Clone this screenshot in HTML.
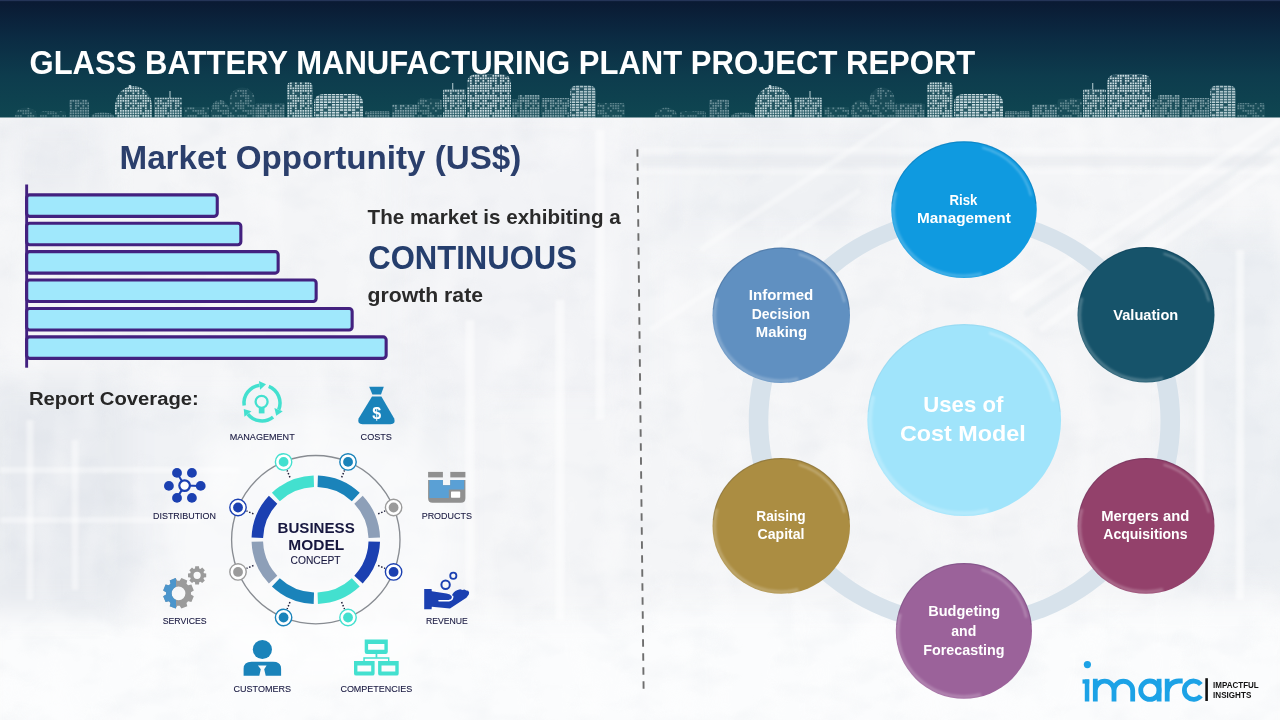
<!DOCTYPE html>
<html><head><meta charset="utf-8"><title>Glass Battery Manufacturing Plant Project Report</title>
<style>
html,body{margin:0;padding:0;background:#f4f6f8;}
body{width:1280px;height:720px;overflow:hidden;font-family:"Liberation Sans", sans-serif;}
svg{display:block;will-change:transform;}
</style></head><body>
<svg width="1280" height="720" viewBox="0 0 1280 720" font-family='"Liberation Sans", sans-serif'>
<defs>
<linearGradient id="hdr" x1="0" y1="0" x2="0" y2="1">
<stop offset="0" stop-color="#0a1932"/><stop offset="0.3" stop-color="#0b2a42"/><stop offset="0.65" stop-color="#0d3c4d"/><stop offset="1" stop-color="#0f4651"/></linearGradient>
<filter id="bv" x="-10%" y="-10%" width="120%" height="120%"><feGaussianBlur stdDeviation="1.1"/></filter>
<pattern id="win" width="25.0" height="25.0" patternUnits="userSpaceOnUse"><g fill="#e4f1f4"><rect x="0.0" y="0.0" width="1.7" height="1.7"/><rect x="0.0" y="2.5" width="1.7" height="1.7"/><rect x="0.0" y="5.0" width="1.7" height="1.7"/><rect x="0.0" y="7.5" width="1.7" height="1.7"/><rect x="0.0" y="10.0" width="1.7" height="1.7"/><rect x="0.0" y="12.5" width="1.7" height="1.7"/><rect x="0.0" y="15.0" width="1.7" height="1.7"/><rect x="0.0" y="17.5" width="1.7" height="1.7"/><rect x="0.0" y="20.0" width="1.7" height="1.7"/><rect x="0.0" y="22.5" width="1.7" height="1.7"/><rect x="2.5" y="0.0" width="1.7" height="1.7"/><rect x="2.5" y="2.5" width="1.7" height="1.7"/><rect x="2.5" y="5.0" width="1.7" height="1.7"/><rect x="2.5" y="10.0" width="1.7" height="1.7"/><rect x="2.5" y="12.5" width="1.7" height="1.7"/><rect x="2.5" y="15.0" width="1.7" height="1.7"/><rect x="2.5" y="20.0" width="1.7" height="1.7"/><rect x="2.5" y="22.5" width="1.7" height="1.7"/><rect x="5.0" y="2.5" width="1.7" height="1.7"/><rect x="5.0" y="7.5" width="1.7" height="1.7"/><rect x="5.0" y="10.0" width="1.7" height="1.7"/><rect x="5.0" y="12.5" width="1.7" height="1.7"/><rect x="5.0" y="15.0" width="1.7" height="1.7"/><rect x="5.0" y="20.0" width="1.7" height="1.7"/><rect x="5.0" y="22.5" width="1.7" height="1.7"/><rect x="7.5" y="0.0" width="1.7" height="1.7"/><rect x="7.5" y="2.5" width="1.7" height="1.7"/><rect x="7.5" y="5.0" width="1.7" height="1.7"/><rect x="7.5" y="7.5" width="1.7" height="1.7"/><rect x="7.5" y="10.0" width="1.7" height="1.7"/><rect x="7.5" y="12.5" width="1.7" height="1.7"/><rect x="7.5" y="15.0" width="1.7" height="1.7"/><rect x="7.5" y="17.5" width="1.7" height="1.7"/><rect x="7.5" y="20.0" width="1.7" height="1.7"/><rect x="7.5" y="22.5" width="1.7" height="1.7"/><rect x="10.0" y="0.0" width="1.7" height="1.7"/><rect x="10.0" y="2.5" width="1.7" height="1.7"/><rect x="10.0" y="7.5" width="1.7" height="1.7"/><rect x="10.0" y="10.0" width="1.7" height="1.7"/><rect x="10.0" y="12.5" width="1.7" height="1.7"/><rect x="10.0" y="15.0" width="1.7" height="1.7"/><rect x="10.0" y="20.0" width="1.7" height="1.7"/><rect x="10.0" y="22.5" width="1.7" height="1.7"/><rect x="12.5" y="2.5" width="1.7" height="1.7"/><rect x="12.5" y="5.0" width="1.7" height="1.7"/><rect x="12.5" y="7.5" width="1.7" height="1.7"/><rect x="12.5" y="10.0" width="1.7" height="1.7"/><rect x="12.5" y="12.5" width="1.7" height="1.7"/><rect x="12.5" y="15.0" width="1.7" height="1.7"/><rect x="12.5" y="17.5" width="1.7" height="1.7"/><rect x="12.5" y="20.0" width="1.7" height="1.7"/><rect x="12.5" y="22.5" width="1.7" height="1.7"/><rect x="15.0" y="2.5" width="1.7" height="1.7"/><rect x="15.0" y="5.0" width="1.7" height="1.7"/><rect x="15.0" y="7.5" width="1.7" height="1.7"/><rect x="15.0" y="10.0" width="1.7" height="1.7"/><rect x="15.0" y="12.5" width="1.7" height="1.7"/><rect x="15.0" y="20.0" width="1.7" height="1.7"/><rect x="15.0" y="22.5" width="1.7" height="1.7"/><rect x="17.5" y="0.0" width="1.7" height="1.7"/><rect x="17.5" y="2.5" width="1.7" height="1.7"/><rect x="17.5" y="5.0" width="1.7" height="1.7"/><rect x="17.5" y="12.5" width="1.7" height="1.7"/><rect x="17.5" y="15.0" width="1.7" height="1.7"/><rect x="17.5" y="17.5" width="1.7" height="1.7"/><rect x="17.5" y="20.0" width="1.7" height="1.7"/><rect x="17.5" y="22.5" width="1.7" height="1.7"/><rect x="20.0" y="0.0" width="1.7" height="1.7"/><rect x="20.0" y="2.5" width="1.7" height="1.7"/><rect x="20.0" y="5.0" width="1.7" height="1.7"/><rect x="20.0" y="7.5" width="1.7" height="1.7"/><rect x="20.0" y="10.0" width="1.7" height="1.7"/><rect x="20.0" y="12.5" width="1.7" height="1.7"/><rect x="20.0" y="15.0" width="1.7" height="1.7"/><rect x="20.0" y="20.0" width="1.7" height="1.7"/><rect x="20.0" y="22.5" width="1.7" height="1.7"/><rect x="22.5" y="0.0" width="1.7" height="1.7"/><rect x="22.5" y="10.0" width="1.7" height="1.7"/><rect x="22.5" y="12.5" width="1.7" height="1.7"/><rect x="22.5" y="15.0" width="1.7" height="1.7"/><rect x="22.5" y="22.5" width="1.7" height="1.7"/></g></pattern>
<pattern id="win2" width="32" height="20.8" patternUnits="userSpaceOnUse"><g fill="#e4f1f4"><rect x="0" y="0.0" width="3.2" height="1.6"/><rect x="0" y="2.6" width="3.2" height="1.6"/><rect x="0" y="5.2" width="3.2" height="1.6"/><rect x="0" y="7.800000000000001" width="3.2" height="1.6"/><rect x="0" y="10.4" width="3.2" height="1.6"/><rect x="0" y="13.0" width="3.2" height="1.6"/><rect x="0" y="15.600000000000001" width="3.2" height="1.6"/><rect x="0" y="18.2" width="3.2" height="1.6"/><rect x="4" y="0.0" width="3.2" height="1.6"/><rect x="4" y="2.6" width="3.2" height="1.6"/><rect x="4" y="7.800000000000001" width="3.2" height="1.6"/><rect x="4" y="10.4" width="3.2" height="1.6"/><rect x="4" y="13.0" width="3.2" height="1.6"/><rect x="4" y="15.600000000000001" width="3.2" height="1.6"/><rect x="4" y="18.2" width="3.2" height="1.6"/><rect x="8" y="2.6" width="3.2" height="1.6"/><rect x="8" y="5.2" width="3.2" height="1.6"/><rect x="8" y="7.800000000000001" width="3.2" height="1.6"/><rect x="8" y="10.4" width="3.2" height="1.6"/><rect x="8" y="13.0" width="3.2" height="1.6"/><rect x="8" y="15.600000000000001" width="3.2" height="1.6"/><rect x="8" y="18.2" width="3.2" height="1.6"/><rect x="12" y="0.0" width="3.2" height="1.6"/><rect x="12" y="2.6" width="3.2" height="1.6"/><rect x="12" y="5.2" width="3.2" height="1.6"/><rect x="12" y="7.800000000000001" width="3.2" height="1.6"/><rect x="12" y="10.4" width="3.2" height="1.6"/><rect x="12" y="13.0" width="3.2" height="1.6"/><rect x="12" y="15.600000000000001" width="3.2" height="1.6"/><rect x="12" y="18.2" width="3.2" height="1.6"/><rect x="16" y="0.0" width="3.2" height="1.6"/><rect x="16" y="2.6" width="3.2" height="1.6"/><rect x="16" y="5.2" width="3.2" height="1.6"/><rect x="16" y="7.800000000000001" width="3.2" height="1.6"/><rect x="16" y="10.4" width="3.2" height="1.6"/><rect x="16" y="13.0" width="3.2" height="1.6"/><rect x="16" y="15.600000000000001" width="3.2" height="1.6"/><rect x="16" y="18.2" width="3.2" height="1.6"/><rect x="20" y="0.0" width="3.2" height="1.6"/><rect x="20" y="2.6" width="3.2" height="1.6"/><rect x="20" y="5.2" width="3.2" height="1.6"/><rect x="20" y="10.4" width="3.2" height="1.6"/><rect x="20" y="13.0" width="3.2" height="1.6"/><rect x="20" y="15.600000000000001" width="3.2" height="1.6"/><rect x="20" y="18.2" width="3.2" height="1.6"/><rect x="24" y="0.0" width="3.2" height="1.6"/><rect x="24" y="2.6" width="3.2" height="1.6"/><rect x="24" y="5.2" width="3.2" height="1.6"/><rect x="24" y="7.800000000000001" width="3.2" height="1.6"/><rect x="24" y="10.4" width="3.2" height="1.6"/><rect x="24" y="15.600000000000001" width="3.2" height="1.6"/><rect x="24" y="18.2" width="3.2" height="1.6"/><rect x="28" y="0.0" width="3.2" height="1.6"/><rect x="28" y="2.6" width="3.2" height="1.6"/><rect x="28" y="5.2" width="3.2" height="1.6"/><rect x="28" y="10.4" width="3.2" height="1.6"/><rect x="28" y="13.0" width="3.2" height="1.6"/><rect x="28" y="15.600000000000001" width="3.2" height="1.6"/><rect x="28" y="18.2" width="3.2" height="1.6"/></g></pattern>
<pattern id="win3" width="25.0" height="25.0" patternUnits="userSpaceOnUse"><g fill="#e4f1f4"><rect x="0.0" y="0.0" width="1.7" height="1.7"/><rect x="0.0" y="5.0" width="1.7" height="1.7"/><rect x="0.0" y="10.0" width="1.7" height="1.7"/><rect x="0.0" y="12.5" width="1.7" height="1.7"/><rect x="2.5" y="5.0" width="1.7" height="1.7"/><rect x="2.5" y="7.5" width="1.7" height="1.7"/><rect x="2.5" y="10.0" width="1.7" height="1.7"/><rect x="2.5" y="12.5" width="1.7" height="1.7"/><rect x="2.5" y="15.0" width="1.7" height="1.7"/><rect x="2.5" y="17.5" width="1.7" height="1.7"/><rect x="2.5" y="20.0" width="1.7" height="1.7"/><rect x="5.0" y="2.5" width="1.7" height="1.7"/><rect x="5.0" y="12.5" width="1.7" height="1.7"/><rect x="5.0" y="15.0" width="1.7" height="1.7"/><rect x="5.0" y="17.5" width="1.7" height="1.7"/><rect x="5.0" y="20.0" width="1.7" height="1.7"/><rect x="5.0" y="22.5" width="1.7" height="1.7"/><rect x="7.5" y="7.5" width="1.7" height="1.7"/><rect x="7.5" y="15.0" width="1.7" height="1.7"/><rect x="10.0" y="2.5" width="1.7" height="1.7"/><rect x="10.0" y="5.0" width="1.7" height="1.7"/><rect x="10.0" y="10.0" width="1.7" height="1.7"/><rect x="10.0" y="17.5" width="1.7" height="1.7"/><rect x="10.0" y="20.0" width="1.7" height="1.7"/><rect x="12.5" y="2.5" width="1.7" height="1.7"/><rect x="12.5" y="5.0" width="1.7" height="1.7"/><rect x="12.5" y="7.5" width="1.7" height="1.7"/><rect x="12.5" y="15.0" width="1.7" height="1.7"/><rect x="15.0" y="0.0" width="1.7" height="1.7"/><rect x="15.0" y="2.5" width="1.7" height="1.7"/><rect x="15.0" y="5.0" width="1.7" height="1.7"/><rect x="15.0" y="7.5" width="1.7" height="1.7"/><rect x="15.0" y="15.0" width="1.7" height="1.7"/><rect x="15.0" y="20.0" width="1.7" height="1.7"/><rect x="17.5" y="2.5" width="1.7" height="1.7"/><rect x="17.5" y="5.0" width="1.7" height="1.7"/><rect x="17.5" y="7.5" width="1.7" height="1.7"/><rect x="17.5" y="10.0" width="1.7" height="1.7"/><rect x="17.5" y="15.0" width="1.7" height="1.7"/><rect x="17.5" y="17.5" width="1.7" height="1.7"/><rect x="17.5" y="20.0" width="1.7" height="1.7"/><rect x="20.0" y="0.0" width="1.7" height="1.7"/><rect x="20.0" y="2.5" width="1.7" height="1.7"/><rect x="20.0" y="10.0" width="1.7" height="1.7"/><rect x="20.0" y="15.0" width="1.7" height="1.7"/><rect x="20.0" y="17.5" width="1.7" height="1.7"/><rect x="20.0" y="20.0" width="1.7" height="1.7"/><rect x="20.0" y="22.5" width="1.7" height="1.7"/><rect x="22.5" y="0.0" width="1.7" height="1.7"/><rect x="22.5" y="2.5" width="1.7" height="1.7"/><rect x="22.5" y="5.0" width="1.7" height="1.7"/><rect x="22.5" y="10.0" width="1.7" height="1.7"/><rect x="22.5" y="12.5" width="1.7" height="1.7"/><rect x="22.5" y="20.0" width="1.7" height="1.7"/><rect x="22.5" y="22.5" width="1.7" height="1.7"/></g></pattern>
</defs>
<rect x="0" y="0" width="1280" height="720" fill="#f4f5f7"/>
<g id="bgdeco"><defs><filter id="bl" x="-20%" y="-20%" width="140%" height="140%"><feGaussianBlur stdDeviation="14"/></filter><filter id="bl2" x="-5%" y="-5%" width="110%" height="110%"><feGaussianBlur stdDeviation="1.6"/></filter><filter id="tex" x="0" y="0" width="100%" height="100%"><feTurbulence type="fractalNoise" baseFrequency="0.022 0.035" numOctaves="3" seed="11" result="n"/><feColorMatrix in="n" type="matrix" values="0 0 0 0 0.55  0 0 0 0 0.6  0 0 0 0 0.68  1.6 0 0 0 -0.72"/></filter><filter id="tex2" x="0" y="0" width="100%" height="100%"><feTurbulence type="fractalNoise" baseFrequency="0.03 0.012" numOctaves="2" seed="4" result="n"/><feColorMatrix in="n" type="matrix" values="0 0 0 0 1  0 0 0 0 1  0 0 0 0 1  0 1.8 0 0 -0.78"/></filter></defs>
<g filter="url(#bl)">
<rect x="-20" y="380" width="150" height="230" fill="#e7eaef"/>
<rect x="130" y="400" width="330" height="180" fill="#f0f2f5"/>
<rect x="-20" y="615" width="700" height="130" fill="#fbfcfd"/>
<rect x="640" y="605" width="660" height="140" fill="#fbfcfd"/>
<rect x="1175" y="230" width="130" height="360" fill="#eceff3"/>
<rect x="660" y="120" width="240" height="120" fill="#eff1f4"/>
<rect x="400" y="120" width="240" height="280" fill="#f2f3f6"/>
<rect x="0" y="118" width="110" height="80" fill="#eceef2"/>
</g>
<rect x="0" y="117" width="1280" height="603" filter="url(#tex)" opacity="0.16"/>
<rect x="0" y="117" width="1280" height="603" filter="url(#tex2)" opacity="0.45"/>
<g filter="url(#bl2)" fill="none" stroke-linecap="butt">
<path d="M640,150 H1280 M640,172 H1280" stroke="#ffffff" stroke-width="5" opacity="0.3"/>
<path d="M640,161 H1280" stroke="#e3e7ec" stroke-width="9" opacity="0.4"/>
<path d="M1280,120 L1010,300 M1280,160 L1040,330" stroke="#ffffff" stroke-width="7" opacity="0.4"/>
<path d="M1280,140 L1025,315" stroke="#e4e8ed" stroke-width="6" opacity="0.45"/>
<path d="M700,250 L900,118 M650,330 L860,190" stroke="#ffffff" stroke-width="6" opacity="0.35"/>
<path d="M1240,250 V600 M1200,300 V560" stroke="#ffffff" stroke-width="8" opacity="0.5"/>
<path d="M560,300 V620 M470,320 V600 M600,130 V420" stroke="#ffffff" stroke-width="9" opacity="0.5"/>
<path d="M30,420 V600 M75,440 V590" stroke="#ffffff" stroke-width="7" opacity="0.45"/>
<path d="M0,470 H240 M0,520 H200" stroke="#ffffff" stroke-width="6" opacity="0.4"/>
</g>
<ellipse cx="316" cy="545" rx="150" ry="135" fill="#ffffff" opacity="0.55" filter="url(#bl)"/></g>
<rect x="0" y="0" width="1280" height="117.5" fill="url(#hdr)"/>
<rect x="0" y="0" width="1280" height="1.2" fill="#2a3b60" opacity="0.8"/>
<g id="skyline"><path d="M15,117.5 V115.00 A11.00,7.50 0 0 1 37,115.00 V117.5Z" fill="url(#win3)" opacity="0.3"/>
<path d="M15,117.5 V115.00 A11.00,7.50 0 0 1 37,115.00 V117.5Z" fill="#cfe6ec" opacity="0.048"/>
<path d="M40,117.5 V113 Q40,111 42,111 H64 Q66,111 66,113 V117.5Z" fill="url(#win3)" opacity="0.26"/>
<path d="M40,117.5 V113 Q40,111 42,111 H64 Q66,111 66,113 V117.5Z" fill="#cfe6ec" opacity="0.042"/>
<path d="M69,117.5 V101.5 Q69,99.5 71,99.5 H87 Q89,99.5 89,101.5 V117.5Z" fill="url(#win)" opacity="0.42"/>
<path d="M69,117.5 V101.5 Q69,99.5 71,99.5 H87 Q89,99.5 89,101.5 V117.5Z" fill="#cfe6ec" opacity="0.067"/>
<path d="M91,117.5 V116.25 A11.50,3.75 0 0 1 114,116.25 V117.5Z" fill="url(#win)" opacity="0.4"/>
<path d="M91,117.5 V116.25 A11.50,3.75 0 0 1 114,116.25 V117.5Z" fill="#cfe6ec" opacity="0.064"/>
<path d="M115,117.5 V106.35 A18.50,20.35 0 0 1 152,106.35 V117.5Z" fill="url(#win)" opacity="0.85"/>
<path d="M115,117.5 V106.35 A18.50,20.35 0 0 1 152,106.35 V117.5Z" fill="#cfe6ec" opacity="0.136"/>
<path d="M154,117.5 V98.5 Q154,97.5 155,97.5 H181 Q182,97.5 182,98.5 V117.5Z" fill="url(#win)" opacity="0.75"/>
<path d="M154,117.5 V98.5 Q154,97.5 155,97.5 H181 Q182,97.5 182,98.5 V117.5Z" fill="#cfe6ec" opacity="0.120"/>
<path d="M184,117.5 V108 Q184,107 185,107 H208 Q209,107 209,108 V117.5Z" fill="url(#win3)" opacity="0.34"/>
<path d="M184,117.5 V108 Q184,107 185,107 H208 Q209,107 209,108 V117.5Z" fill="#cfe6ec" opacity="0.054"/>
<path d="M211,117.5 V109.90 A9.00,9.90 0 0 1 229,109.90 V117.5Z" fill="url(#win3)" opacity="0.36"/>
<path d="M211,117.5 V109.90 A9.00,9.90 0 0 1 229,109.90 V117.5Z" fill="#cfe6ec" opacity="0.058"/>
<path d="M229.5,117.5 V101.53 A12.75,14.03 0 0 1 255,101.53 V117.5Z" fill="url(#win3)" opacity="0.34"/>
<path d="M229.5,117.5 V101.53 A12.75,14.03 0 0 1 255,101.53 V117.5Z" fill="#cfe6ec" opacity="0.054"/>
<path d="M255.5,117.5 V104.7 Q255.5,103.7 256.5,103.7 H284 Q285,103.7 285,104.7 V117.5Z" fill="url(#win)" opacity="0.45"/>
<path d="M255.5,117.5 V104.7 Q255.5,103.7 256.5,103.7 H284 Q285,103.7 285,104.7 V117.5Z" fill="#cfe6ec" opacity="0.072"/>
<path d="M287,117.5 V87 Q287,82 292,82 H307.5 Q312.5,82 312.5,87 V117.5Z" fill="url(#win)" opacity="0.85"/>
<path d="M287,117.5 V87 Q287,82 292,82 H307.5 Q312.5,82 312.5,87 V117.5Z" fill="#cfe6ec" opacity="0.136"/>
<path d="M314,117.5 V104 Q314,94 324,94 H353 Q363,94 363,104 V117.5Z" fill="url(#win2)" opacity="0.9"/>
<path d="M314,117.5 V104 Q314,94 324,94 H353 Q363,94 363,104 V117.5Z" fill="#cfe6ec" opacity="0.144"/>
<path d="M365,117.5 V113 Q365,111 367,111 H388 Q390,111 390,113 V117.5Z" fill="url(#win)" opacity="0.4"/>
<path d="M365,117.5 V113 Q365,111 367,111 H388 Q390,111 390,113 V117.5Z" fill="#cfe6ec" opacity="0.064"/>
<path d="M392,117.5 V105.5 Q392,104.5 393,104.5 H416 Q417,104.5 417,105.5 V117.5Z" fill="url(#win)" opacity="0.5"/>
<path d="M392,117.5 V105.5 Q392,104.5 393,104.5 H416 Q417,104.5 417,105.5 V117.5Z" fill="#cfe6ec" opacity="0.080"/>
<path d="M417.5,117.5 V101.7 Q417.5,98.7 420.5,98.7 H439 Q442,98.7 442,101.7 V117.5Z" fill="url(#win3)" opacity="0.36"/>
<path d="M417.5,117.5 V101.7 Q417.5,98.7 420.5,98.7 H439 Q442,98.7 442,101.7 V117.5Z" fill="#cfe6ec" opacity="0.058"/>
<path d="M443,117.5 V91 Q443,89 445,89 H464 Q466,89 466,91 V117.5Z" fill="url(#win)" opacity="0.8"/>
<path d="M443,117.5 V91 Q443,89 445,89 H464 Q466,89 466,91 V117.5Z" fill="#cfe6ec" opacity="0.128"/>
<path d="M467,117.5 V84 Q467,74 477,74 H501 Q511,74 511,84 V117.5Z" fill="url(#win)" opacity="0.9"/>
<path d="M467,117.5 V84 Q467,74 477,74 H501 Q511,74 511,84 V117.5Z" fill="#cfe6ec" opacity="0.144"/>
<path d="M512,117.5 V99 Q512,99 512,99 H518 Q518,99 518,99 V117.5Z" fill="url(#win)" opacity="0.5"/>
<path d="M512,117.5 V99 Q512,99 512,99 H518 Q518,99 518,99 V117.5Z" fill="#cfe6ec" opacity="0.080"/>
<path d="M518.5,117.5 V96 Q518.5,95 519.5,95 H539 Q540,95 540,96 V117.5Z" fill="url(#win)" opacity="0.55"/>
<path d="M518.5,117.5 V96 Q518.5,95 519.5,95 H539 Q540,95 540,96 V117.5Z" fill="#cfe6ec" opacity="0.088"/>
<path d="M541.7,117.5 V99 Q541.7,98 542.7,98 H568.6 Q569.6,98 569.6,99 V117.5Z" fill="url(#win)" opacity="0.5"/>
<path d="M541.7,117.5 V99 Q541.7,98 542.7,98 H568.6 Q569.6,98 569.6,99 V117.5Z" fill="#cfe6ec" opacity="0.080"/>
<path d="M570,117.5 V92.4 Q570,85.4 577,85.4 H589 Q596,85.4 596,92.4 V117.5Z" fill="url(#win2)" opacity="0.8"/>
<path d="M570,117.5 V92.4 Q570,85.4 577,85.4 H589 Q596,85.4 596,92.4 V117.5Z" fill="#cfe6ec" opacity="0.128"/>
<path d="M597,117.5 V106 Q597,103 600,103 H622 Q625,103 625,106 V117.5Z" fill="url(#win3)" opacity="0.33"/>
<path d="M597,117.5 V106 Q597,103 600,103 H622 Q625,103 625,106 V117.5Z" fill="#cfe6ec" opacity="0.053"/>
<rect x="169.4" y="91" width="1.2" height="7" fill="#dfeef2" opacity="0.7"/>
<rect x="452.09999999999997" y="83" width="1.2" height="6.5" fill="#dfeef2" opacity="0.7"/>
<rect x="128.8" y="85" width="2.4" height="3" fill="#dfeef2" opacity="0.8"/>
<path d="M655,117.5 V115.00 A11.00,7.50 0 0 1 677,115.00 V117.5Z" fill="url(#win3)" opacity="0.3"/>
<path d="M655,117.5 V115.00 A11.00,7.50 0 0 1 677,115.00 V117.5Z" fill="#cfe6ec" opacity="0.048"/>
<path d="M680,117.5 V113 Q680,111 682,111 H704 Q706,111 706,113 V117.5Z" fill="url(#win3)" opacity="0.26"/>
<path d="M680,117.5 V113 Q680,111 682,111 H704 Q706,111 706,113 V117.5Z" fill="#cfe6ec" opacity="0.042"/>
<path d="M709,117.5 V101.5 Q709,99.5 711,99.5 H727 Q729,99.5 729,101.5 V117.5Z" fill="url(#win)" opacity="0.42"/>
<path d="M709,117.5 V101.5 Q709,99.5 711,99.5 H727 Q729,99.5 729,101.5 V117.5Z" fill="#cfe6ec" opacity="0.067"/>
<path d="M731,117.5 V116.25 A11.50,3.75 0 0 1 754,116.25 V117.5Z" fill="url(#win)" opacity="0.4"/>
<path d="M731,117.5 V116.25 A11.50,3.75 0 0 1 754,116.25 V117.5Z" fill="#cfe6ec" opacity="0.064"/>
<path d="M755,117.5 V106.35 A18.50,20.35 0 0 1 792,106.35 V117.5Z" fill="url(#win)" opacity="0.85"/>
<path d="M755,117.5 V106.35 A18.50,20.35 0 0 1 792,106.35 V117.5Z" fill="#cfe6ec" opacity="0.136"/>
<path d="M794,117.5 V98.5 Q794,97.5 795,97.5 H821 Q822,97.5 822,98.5 V117.5Z" fill="url(#win)" opacity="0.75"/>
<path d="M794,117.5 V98.5 Q794,97.5 795,97.5 H821 Q822,97.5 822,98.5 V117.5Z" fill="#cfe6ec" opacity="0.120"/>
<path d="M824,117.5 V108 Q824,107 825,107 H848 Q849,107 849,108 V117.5Z" fill="url(#win3)" opacity="0.34"/>
<path d="M824,117.5 V108 Q824,107 825,107 H848 Q849,107 849,108 V117.5Z" fill="#cfe6ec" opacity="0.054"/>
<path d="M851,117.5 V109.90 A9.00,9.90 0 0 1 869,109.90 V117.5Z" fill="url(#win3)" opacity="0.36"/>
<path d="M851,117.5 V109.90 A9.00,9.90 0 0 1 869,109.90 V117.5Z" fill="#cfe6ec" opacity="0.058"/>
<path d="M869.5,117.5 V101.53 A12.75,14.03 0 0 1 895,101.53 V117.5Z" fill="url(#win3)" opacity="0.34"/>
<path d="M869.5,117.5 V101.53 A12.75,14.03 0 0 1 895,101.53 V117.5Z" fill="#cfe6ec" opacity="0.054"/>
<path d="M895.5,117.5 V104.7 Q895.5,103.7 896.5,103.7 H924 Q925,103.7 925,104.7 V117.5Z" fill="url(#win)" opacity="0.45"/>
<path d="M895.5,117.5 V104.7 Q895.5,103.7 896.5,103.7 H924 Q925,103.7 925,104.7 V117.5Z" fill="#cfe6ec" opacity="0.072"/>
<path d="M927,117.5 V87 Q927,82 932,82 H947.5 Q952.5,82 952.5,87 V117.5Z" fill="url(#win)" opacity="0.85"/>
<path d="M927,117.5 V87 Q927,82 932,82 H947.5 Q952.5,82 952.5,87 V117.5Z" fill="#cfe6ec" opacity="0.136"/>
<path d="M954,117.5 V104 Q954,94 964,94 H993 Q1003,94 1003,104 V117.5Z" fill="url(#win2)" opacity="0.9"/>
<path d="M954,117.5 V104 Q954,94 964,94 H993 Q1003,94 1003,104 V117.5Z" fill="#cfe6ec" opacity="0.144"/>
<path d="M1005,117.5 V113 Q1005,111 1007,111 H1028 Q1030,111 1030,113 V117.5Z" fill="url(#win)" opacity="0.4"/>
<path d="M1005,117.5 V113 Q1005,111 1007,111 H1028 Q1030,111 1030,113 V117.5Z" fill="#cfe6ec" opacity="0.064"/>
<path d="M1032,117.5 V105.5 Q1032,104.5 1033,104.5 H1056 Q1057,104.5 1057,105.5 V117.5Z" fill="url(#win)" opacity="0.5"/>
<path d="M1032,117.5 V105.5 Q1032,104.5 1033,104.5 H1056 Q1057,104.5 1057,105.5 V117.5Z" fill="#cfe6ec" opacity="0.080"/>
<path d="M1057.5,117.5 V101.7 Q1057.5,98.7 1060.5,98.7 H1079 Q1082,98.7 1082,101.7 V117.5Z" fill="url(#win3)" opacity="0.36"/>
<path d="M1057.5,117.5 V101.7 Q1057.5,98.7 1060.5,98.7 H1079 Q1082,98.7 1082,101.7 V117.5Z" fill="#cfe6ec" opacity="0.058"/>
<path d="M1083,117.5 V91 Q1083,89 1085,89 H1104 Q1106,89 1106,91 V117.5Z" fill="url(#win)" opacity="0.8"/>
<path d="M1083,117.5 V91 Q1083,89 1085,89 H1104 Q1106,89 1106,91 V117.5Z" fill="#cfe6ec" opacity="0.128"/>
<path d="M1107,117.5 V84 Q1107,74 1117,74 H1141 Q1151,74 1151,84 V117.5Z" fill="url(#win)" opacity="0.9"/>
<path d="M1107,117.5 V84 Q1107,74 1117,74 H1141 Q1151,74 1151,84 V117.5Z" fill="#cfe6ec" opacity="0.144"/>
<path d="M1152,117.5 V99 Q1152,99 1152,99 H1158 Q1158,99 1158,99 V117.5Z" fill="url(#win)" opacity="0.5"/>
<path d="M1152,117.5 V99 Q1152,99 1152,99 H1158 Q1158,99 1158,99 V117.5Z" fill="#cfe6ec" opacity="0.080"/>
<path d="M1158.5,117.5 V96 Q1158.5,95 1159.5,95 H1179 Q1180,95 1180,96 V117.5Z" fill="url(#win)" opacity="0.55"/>
<path d="M1158.5,117.5 V96 Q1158.5,95 1159.5,95 H1179 Q1180,95 1180,96 V117.5Z" fill="#cfe6ec" opacity="0.088"/>
<path d="M1181.7,117.5 V99 Q1181.7,98 1182.7,98 H1208.6 Q1209.6,98 1209.6,99 V117.5Z" fill="url(#win)" opacity="0.5"/>
<path d="M1181.7,117.5 V99 Q1181.7,98 1182.7,98 H1208.6 Q1209.6,98 1209.6,99 V117.5Z" fill="#cfe6ec" opacity="0.080"/>
<path d="M1210,117.5 V92.4 Q1210,85.4 1217,85.4 H1229 Q1236,85.4 1236,92.4 V117.5Z" fill="url(#win2)" opacity="0.8"/>
<path d="M1210,117.5 V92.4 Q1210,85.4 1217,85.4 H1229 Q1236,85.4 1236,92.4 V117.5Z" fill="#cfe6ec" opacity="0.128"/>
<path d="M1237,117.5 V106 Q1237,103 1240,103 H1262 Q1265,103 1265,106 V117.5Z" fill="url(#win3)" opacity="0.33"/>
<path d="M1237,117.5 V106 Q1237,103 1240,103 H1262 Q1265,103 1265,106 V117.5Z" fill="#cfe6ec" opacity="0.053"/>
<rect x="809.4" y="91" width="1.2" height="7" fill="#dfeef2" opacity="0.7"/>
<rect x="1092.1000000000001" y="83" width="1.2" height="6.5" fill="#dfeef2" opacity="0.7"/>
<rect x="768.8" y="85" width="2.4" height="3" fill="#dfeef2" opacity="0.8"/></g>
<text x="29.50" y="74.20" font-size="33" font-weight="bold" fill="#ffffff" textLength="945.80" lengthAdjust="spacingAndGlyphs" >GLASS BATTERY MANUFACTURING PLANT PROJECT REPORT</text>
<text x="119.50" y="169.30" font-size="32.6" font-weight="bold" fill="#2b3f6c" textLength="401.80" lengthAdjust="spacingAndGlyphs" >Market Opportunity (US$)</text>
<rect x="26.6" y="194.85" width="190.65" height="21.50" rx="3" ry="3" fill="#a0e8fc" stroke="#43217f" stroke-width="3.1"/>
<rect x="26.6" y="223.25" width="214.25" height="21.50" rx="3" ry="3" fill="#a0e8fc" stroke="#43217f" stroke-width="3.1"/>
<rect x="26.6" y="251.65" width="251.55" height="21.50" rx="3" ry="3" fill="#a0e8fc" stroke="#43217f" stroke-width="3.1"/>
<rect x="26.6" y="280.05" width="289.55" height="21.50" rx="3" ry="3" fill="#a0e8fc" stroke="#43217f" stroke-width="3.1"/>
<rect x="26.6" y="308.45" width="325.55" height="21.50" rx="3" ry="3" fill="#a0e8fc" stroke="#43217f" stroke-width="3.1"/>
<rect x="26.6" y="336.85" width="359.55" height="21.50" rx="3" ry="3" fill="#a0e8fc" stroke="#43217f" stroke-width="3.1"/>
<rect x="25.2" y="184.5" width="2.9" height="183.2" fill="#43217f"/>
<text x="367.60" y="224.40" font-size="20.8" font-weight="bold" fill="#2a2a2a" textLength="253.10" lengthAdjust="spacingAndGlyphs" >The market is exhibiting a</text>
<text x="368.30" y="269.20" font-size="33.4" font-weight="bold" fill="#253e6d" textLength="208.60" lengthAdjust="spacingAndGlyphs" >CONTINUOUS</text>
<text x="367.50" y="301.70" font-size="20.8" font-weight="bold" fill="#2a2a2a" textLength="115.50" lengthAdjust="spacingAndGlyphs" >growth rate</text>
<text x="28.90" y="405.30" font-size="18.9" font-weight="bold" fill="#262626" textLength="169.90" lengthAdjust="spacingAndGlyphs" >Report Coverage:</text>
<line x1="637.4" y1="149.2" x2="643.6" y2="689" stroke="#6e6e6e" stroke-width="1.9" stroke-dasharray="7.6 6.4"/>
<g id="bmc"><circle cx="315.8" cy="539.7" r="84.2" fill="none" stroke="#888c92" stroke-width="1.35"/>
<path d="M275.83,496.99 A58.5,58.5 0 0 1 313.86,481.23" fill="none" stroke="#43e0cf" stroke-width="11.5"/>
<path d="M317.74,481.23 A58.5,58.5 0 0 1 355.77,496.99" fill="none" stroke="#1a83ba" stroke-width="11.5"/>
<path d="M358.51,499.73 A58.5,58.5 0 0 1 374.27,537.76" fill="none" stroke="#8d9fb8" stroke-width="11.5"/>
<path d="M374.27,541.64 A58.5,58.5 0 0 1 358.51,579.67" fill="none" stroke="#1b40b1" stroke-width="11.5"/>
<path d="M355.77,582.41 A58.5,58.5 0 0 1 317.74,598.17" fill="none" stroke="#43e0cf" stroke-width="11.5"/>
<path d="M313.86,598.17 A58.5,58.5 0 0 1 275.83,582.41" fill="none" stroke="#1a83ba" stroke-width="11.5"/>
<path d="M273.09,579.67 A58.5,58.5 0 0 1 257.33,541.64" fill="none" stroke="#8d9fb8" stroke-width="11.5"/>
<path d="M257.33,537.76 A58.5,58.5 0 0 1 273.09,499.73" fill="none" stroke="#1b40b1" stroke-width="11.5"/>
<line x1="289.97" y1="477.34" x2="287.10" y2="470.41" stroke="#1d1d38" stroke-width="1.5" stroke-dasharray="1.5 1.7"/>
<circle cx="283.58" cy="461.91" r="8.2" fill="#ffffff" stroke="#43e0cf" stroke-width="1.4"/>
<circle cx="283.58" cy="461.91" r="4.9" fill="#43e0cf"/>
<line x1="341.63" y1="477.34" x2="344.50" y2="470.41" stroke="#1d1d38" stroke-width="1.5" stroke-dasharray="1.5 1.7"/>
<circle cx="348.02" cy="461.91" r="8.2" fill="#ffffff" stroke="#1a83ba" stroke-width="1.4"/>
<circle cx="348.02" cy="461.91" r="4.9" fill="#1a83ba"/>
<line x1="378.16" y1="513.87" x2="385.09" y2="511.00" stroke="#1d1d38" stroke-width="1.5" stroke-dasharray="1.5 1.7"/>
<circle cx="393.59" cy="507.48" r="8.2" fill="#ffffff" stroke="#9b9b9b" stroke-width="1.4"/>
<circle cx="393.59" cy="507.48" r="4.9" fill="#9b9b9b"/>
<line x1="378.16" y1="565.53" x2="385.09" y2="568.40" stroke="#1d1d38" stroke-width="1.5" stroke-dasharray="1.5 1.7"/>
<circle cx="393.59" cy="571.92" r="8.2" fill="#ffffff" stroke="#1b40b1" stroke-width="1.4"/>
<circle cx="393.59" cy="571.92" r="4.9" fill="#1b40b1"/>
<line x1="341.63" y1="602.06" x2="344.50" y2="608.99" stroke="#1d1d38" stroke-width="1.5" stroke-dasharray="1.5 1.7"/>
<circle cx="348.02" cy="617.49" r="8.2" fill="#ffffff" stroke="#43e0cf" stroke-width="1.4"/>
<circle cx="348.02" cy="617.49" r="4.9" fill="#43e0cf"/>
<line x1="289.97" y1="602.06" x2="287.10" y2="608.99" stroke="#1d1d38" stroke-width="1.5" stroke-dasharray="1.5 1.7"/>
<circle cx="283.58" cy="617.49" r="8.2" fill="#ffffff" stroke="#1a83ba" stroke-width="1.4"/>
<circle cx="283.58" cy="617.49" r="4.9" fill="#1a83ba"/>
<line x1="253.44" y1="565.53" x2="246.51" y2="568.40" stroke="#1d1d38" stroke-width="1.5" stroke-dasharray="1.5 1.7"/>
<circle cx="238.01" cy="571.92" r="8.2" fill="#ffffff" stroke="#9b9b9b" stroke-width="1.4"/>
<circle cx="238.01" cy="571.92" r="4.9" fill="#9b9b9b"/>
<line x1="253.44" y1="513.87" x2="246.51" y2="511.00" stroke="#1d1d38" stroke-width="1.5" stroke-dasharray="1.5 1.7"/>
<circle cx="238.01" cy="507.48" r="8.2" fill="#ffffff" stroke="#1b40b1" stroke-width="1.4"/>
<circle cx="238.01" cy="507.48" r="4.9" fill="#1b40b1"/>
<text x="277.50" y="533.00" font-size="14.2" font-weight="bold" fill="#17173f" stroke="#17173f" stroke-width="0" textLength="77.20" lengthAdjust="spacingAndGlyphs">BUSINESS</text>
<text x="288.30" y="549.70" font-size="14.2" font-weight="bold" fill="#17173f" stroke="#17173f" stroke-width="0" textLength="55.90" lengthAdjust="spacingAndGlyphs">MODEL</text>
<text x="290.60" y="564.40" font-size="10" font-weight="normal" fill="#17173f" stroke="#17173f" stroke-width="0.1" textLength="50.00" lengthAdjust="spacingAndGlyphs">CONCEPT</text>
<text x="229.70" y="439.80" font-size="9.3" font-weight="normal" fill="#17173f" stroke="#17173f" stroke-width="0.1" textLength="65.00" lengthAdjust="spacingAndGlyphs">MANAGEMENT</text>
<text x="360.60" y="439.80" font-size="9.3" font-weight="normal" fill="#17173f" stroke="#17173f" stroke-width="0.1" textLength="31.30" lengthAdjust="spacingAndGlyphs">COSTS</text>
<text x="153.00" y="518.75" font-size="9.3" font-weight="normal" fill="#17173f" stroke="#17173f" stroke-width="0.1" textLength="63.00" lengthAdjust="spacingAndGlyphs">DISTRIBUTION</text>
<text x="421.70" y="518.75" font-size="9.3" font-weight="normal" fill="#17173f" stroke="#17173f" stroke-width="0.1" textLength="50.20" lengthAdjust="spacingAndGlyphs">PRODUCTS</text>
<text x="162.70" y="624.30" font-size="9.3" font-weight="normal" fill="#17173f" stroke="#17173f" stroke-width="0.1" textLength="44.00" lengthAdjust="spacingAndGlyphs">SERVICES</text>
<text x="426.00" y="624.30" font-size="9.3" font-weight="normal" fill="#17173f" stroke="#17173f" stroke-width="0.1" textLength="41.90" lengthAdjust="spacingAndGlyphs">REVENUE</text>
<text x="233.50" y="691.70" font-size="9.3" font-weight="normal" fill="#17173f" stroke="#17173f" stroke-width="0.1" textLength="57.50" lengthAdjust="spacingAndGlyphs">CUSTOMERS</text>
<text x="340.40" y="691.70" font-size="9.3" font-weight="normal" fill="#17173f" stroke="#17173f" stroke-width="0.1" textLength="71.90" lengthAdjust="spacingAndGlyphs">COMPETENCIES</text>
<path d="M268.74,386.31 A18.0,18.0 0 0 1 278.69,409.74" fill="none" stroke="#43e0cf" stroke-width="3.5"/>
<path d="M282.68,411.35 L276.22,415.86 L274.42,408.02Z" fill="#43e0cf"/>
<path d="M273.08,417.18 A18.0,18.0 0 0 1 247.82,414.08" fill="none" stroke="#43e0cf" stroke-width="3.5"/>
<path d="M244.43,416.73 L243.75,408.88 L251.44,411.25Z" fill="#43e0cf"/>
<path d="M244.18,405.51 A18.0,18.0 0 0 1 259.49,385.18" fill="none" stroke="#43e0cf" stroke-width="3.5"/>
<path d="M258.90,380.92 L266.03,384.26 L260.14,389.73Z" fill="#43e0cf"/>
<circle cx="261.6" cy="401.8" r="6.0" fill="none" stroke="#43e0cf" stroke-width="2.3"/>
<rect x="258.8" y="407.6" width="5.7" height="5.8" fill="#43e0cf"/>
<path d="M369.2,386.7 L383.8,386.7 L381,394.6 L372.4,394.6Z" fill="#1a83ba"/>
<path d="M372,396.6 L381.4,396.6 L394.2,418.6 Q396,424.2 390.5,424.2 L362.5,424.2 Q357,424.2 358.6,418.6Z" fill="#1a83ba"/>
<text x="376.6" y="419.3" font-size="16" font-weight="bold" fill="#ffffff" text-anchor="middle">$</text>
<line x1="184.6" y1="485.6" x2="177" y2="472.9" stroke="#1b40b1" stroke-width="2"/>
<line x1="184.6" y1="485.6" x2="200.7" y2="485.9" stroke="#1b40b1" stroke-width="2"/>
<line x1="184.6" y1="485.6" x2="177" y2="497.9" stroke="#1b40b1" stroke-width="2"/>
<circle cx="177" cy="472.9" r="4.9" fill="#1b40b1"/>
<circle cx="191.9" cy="472.9" r="4.9" fill="#1b40b1"/>
<circle cx="168.9" cy="485.9" r="4.9" fill="#1b40b1"/>
<circle cx="200.7" cy="485.9" r="4.9" fill="#1b40b1"/>
<circle cx="177" cy="497.9" r="4.9" fill="#1b40b1"/>
<circle cx="191.9" cy="497.9" r="4.9" fill="#1b40b1"/>
<circle cx="184.6" cy="485.6" r="5.3" fill="#ffffff" stroke="#1b40b1" stroke-width="2.2"/>
<clipPath id="gl"><rect x="150" y="570" width="26" height="50"/></clipPath>
<path d="M190.95,594.43 L193.82,596.22 L191.40,602.07 L188.10,601.30 L186.50,602.90 L187.27,606.20 L181.42,608.62 L179.63,605.75 L177.37,605.75 L175.58,608.62 L169.73,606.20 L170.50,602.90 L168.90,601.30 L165.60,602.07 L163.18,596.22 L166.05,594.43 L166.05,592.17 L163.18,590.38 L165.60,584.53 L168.90,585.30 L170.50,583.70 L169.73,580.40 L175.58,577.98 L177.37,580.85 L179.63,580.85 L181.42,577.98 L187.27,580.40 L186.50,583.70 L188.10,585.30 L191.40,584.53 L193.82,590.38 L190.95,592.17Z M171.60,593.30 a6.9,6.9 0 1,0 13.8,0 a6.9,6.9 0 1,0 -13.8,0Z" fill="#9b9b9b" fill-rule="evenodd"/>
<path d="M190.95,594.43 L193.82,596.22 L191.40,602.07 L188.10,601.30 L186.50,602.90 L187.27,606.20 L181.42,608.62 L179.63,605.75 L177.37,605.75 L175.58,608.62 L169.73,606.20 L170.50,602.90 L168.90,601.30 L165.60,602.07 L163.18,596.22 L166.05,594.43 L166.05,592.17 L163.18,590.38 L165.60,584.53 L168.90,585.30 L170.50,583.70 L169.73,580.40 L175.58,577.98 L177.37,580.85 L179.63,580.85 L181.42,577.98 L187.27,580.40 L186.50,583.70 L188.10,585.30 L191.40,584.53 L193.82,590.38 L190.95,592.17Z M171.60,593.30 a6.9,6.9 0 1,0 13.8,0 a6.9,6.9 0 1,0 -13.8,0Z" fill="#4b95cc" fill-rule="evenodd" clip-path="url(#gl)"/>
<path d="M203.97,573.16 L206.21,573.41 L206.21,577.19 L203.97,577.44 L203.47,578.65 L204.87,580.40 L202.20,583.07 L200.45,581.67 L199.24,582.17 L198.99,584.41 L195.21,584.41 L194.96,582.17 L193.75,581.67 L192.00,583.07 L189.33,580.40 L190.73,578.65 L190.23,577.44 L187.99,577.19 L187.99,573.41 L190.23,573.16 L190.73,571.95 L189.33,570.20 L192.00,567.53 L193.75,568.93 L194.96,568.43 L195.21,566.19 L198.99,566.19 L199.24,568.43 L200.45,568.93 L202.20,567.53 L204.87,570.20 L203.47,571.95Z M193.50,575.30 a3.6,3.6 0 1,0 7.2,0 a3.6,3.6 0 1,0 -7.2,0Z" fill="#9b9b9b" fill-rule="evenodd"/>
<rect x="428.1" y="471.9" width="14.8" height="5.5" fill="#909090"/>
<rect x="450.3" y="471.9" width="15.1" height="5.5" fill="#909090"/>
<path d="M428.1,480 H442.9 V485.2 H450.3 V480 H465.4 V498.2 Q465.4,502.7 460.9,502.7 H432.6 Q428.1,502.7 428.1,498.2Z" fill="#909090"/>
<path d="M429.3,480 H442.9 V485.2 H450.3 V480 H464.2 V489.5 H448.8 V497.9 H429.3Z" fill="#5aa0d5"/>
<rect x="451" y="491.5" width="9.2" height="6.2" rx="0.6" fill="#ffffff"/>
<circle cx="445.6" cy="584.7" r="4.2" fill="none" stroke="#1b40b1" stroke-width="2"/>
<circle cx="453.3" cy="575.8" r="3.1" fill="none" stroke="#1b40b1" stroke-width="1.8"/>
<path d="M424.2,589 L431.6,589 L431.8,591.2 L446.5,593.4 Q450.6,594 451.6,596.4 Q452.8,591.8 457.6,590 L460.2,589.2 L462.4,590 L464.4,589.6 L466.4,590.6 L468.2,590.8 Q469.8,592.4 468.8,594.4 L466.4,597.8 L450,608.6 L431.8,606.8 L431.6,609.2 L424.2,609.2Z" fill="#1b40b1"/>
<path d="M439,600.8 L449,600.6 Q453,600.2 452.6,596.2" fill="none" stroke="#ffffff" stroke-width="1.6" stroke-linecap="round"/>
<circle cx="262.4" cy="649.5" r="9.6" fill="#1a83ba"/>
<path d="M243.6,675.8 V668.8 Q243.6,661.8 251.6,661.8 H273.1 Q281.1,661.8 281.1,668.8 V675.8 H265.7 L264.2,669.3 L266.6,665.4 H257.9 L260.8,669.3 L259.3,675.8Z" fill="#1a83ba"/>
<path d="M364.7,639.4 H387.8 V651.8 Q387.8,654.0 385.6,654.0 H366.9 Q364.7,654.0 364.7,651.8Z M368.09999999999997,644.0 V649.8 H384.40000000000003 V644.0Z" fill="#43e0cf" fill-rule="evenodd"/>
<path d="M354,661 H374.6 V673.4 Q374.6,675.6 372.40000000000003,675.6 H356.2 Q354,675.6 354,673.4Z M357.4,665.6 V671.4 H371.20000000000005 V665.6Z" fill="#43e0cf" fill-rule="evenodd"/>
<path d="M378.1,661 H398.70000000000005 V673.4 Q398.70000000000005,675.6 396.50000000000006,675.6 H380.3 Q378.1,675.6 378.1,673.4Z M381.5,665.6 V671.4 H395.30000000000007 V665.6Z" fill="#43e0cf" fill-rule="evenodd"/>
<rect x="375.6" y="653.5" width="1.7" height="4.2" fill="#43e0cf"/>
<path d="M363.3,657.3 H389.4 V661.2 H363.3Z M364.8,658.7 V661.2 H388 V658.7Z" fill="#43e0cf" fill-rule="evenodd"/></g>
<path fill-rule="evenodd" fill="#d7e2eb" d="M748.7,421 a215.7,211.2 0 1,0 431.4,0 a215.7,211.2 0 1,0 -431.4,0Z M768.3,421 a196.1,194.9 0 1,0 392.2,0 a196.1,194.9 0 1,0 -392.2,0Z"/>
<ellipse cx="964" cy="209.6" rx="72.75" ry="68.4" fill="#0f9ae0"/>
<ellipse cx="964" cy="209.6" rx="72.15" ry="67.80" fill="none" stroke="#001030" stroke-opacity="0.13" stroke-width="1.2" pathLength="360" stroke-dasharray="170 190" stroke-dashoffset="-185"/>
<g filter="url(#bv)"><ellipse cx="964" cy="209.6" rx="68.55" ry="64.20" fill="none" stroke="#ffffff" stroke-opacity="0.30" stroke-width="1.80" pathLength="360" stroke-dasharray="62 298" stroke-dashoffset="74"/><ellipse cx="964" cy="209.6" rx="70.75" ry="66.40" fill="none" stroke="#ffffff" stroke-opacity="0.22" stroke-width="3.20" pathLength="360" stroke-dasharray="120 240" stroke-dashoffset="-75"/></g>
<ellipse cx="1146" cy="314.75" rx="68.5" ry="67.75" fill="#16536a"/>
<ellipse cx="1146" cy="314.75" rx="67.90" ry="67.15" fill="none" stroke="#001030" stroke-opacity="0.13" stroke-width="1.2" pathLength="360" stroke-dasharray="170 190" stroke-dashoffset="-185"/>
<g filter="url(#bv)"><ellipse cx="1146" cy="314.75" rx="64.30" ry="63.55" fill="none" stroke="#ffffff" stroke-opacity="0.30" stroke-width="1.80" pathLength="360" stroke-dasharray="62 298" stroke-dashoffset="74"/><ellipse cx="1146" cy="314.75" rx="66.50" ry="65.75" fill="none" stroke="#ffffff" stroke-opacity="0.22" stroke-width="3.20" pathLength="360" stroke-dasharray="120 240" stroke-dashoffset="-75"/></g>
<ellipse cx="1146" cy="525.9" rx="68.5" ry="67.9" fill="#93416b"/>
<ellipse cx="1146" cy="525.9" rx="67.90" ry="67.30" fill="none" stroke="#001030" stroke-opacity="0.13" stroke-width="1.2" pathLength="360" stroke-dasharray="170 190" stroke-dashoffset="-185"/>
<g filter="url(#bv)"><ellipse cx="1146" cy="525.9" rx="64.30" ry="63.70" fill="none" stroke="#ffffff" stroke-opacity="0.30" stroke-width="1.80" pathLength="360" stroke-dasharray="62 298" stroke-dashoffset="74"/><ellipse cx="1146" cy="525.9" rx="66.50" ry="65.90" fill="none" stroke="#ffffff" stroke-opacity="0.22" stroke-width="3.20" pathLength="360" stroke-dasharray="120 240" stroke-dashoffset="-75"/></g>
<ellipse cx="963.9" cy="630.9" rx="68.1" ry="67.9" fill="#9b629a"/>
<ellipse cx="963.9" cy="630.9" rx="67.50" ry="67.30" fill="none" stroke="#001030" stroke-opacity="0.13" stroke-width="1.2" pathLength="360" stroke-dasharray="170 190" stroke-dashoffset="-185"/>
<g filter="url(#bv)"><ellipse cx="963.9" cy="630.9" rx="63.90" ry="63.70" fill="none" stroke="#ffffff" stroke-opacity="0.30" stroke-width="1.80" pathLength="360" stroke-dasharray="62 298" stroke-dashoffset="74"/><ellipse cx="963.9" cy="630.9" rx="66.10" ry="65.90" fill="none" stroke="#ffffff" stroke-opacity="0.22" stroke-width="3.20" pathLength="360" stroke-dasharray="120 240" stroke-dashoffset="-75"/></g>
<ellipse cx="781.25" cy="525.9" rx="68.75" ry="67.9" fill="#ab8d42"/>
<ellipse cx="781.25" cy="525.9" rx="68.15" ry="67.30" fill="none" stroke="#001030" stroke-opacity="0.13" stroke-width="1.2" pathLength="360" stroke-dasharray="170 190" stroke-dashoffset="-185"/>
<g filter="url(#bv)"><ellipse cx="781.25" cy="525.9" rx="64.55" ry="63.70" fill="none" stroke="#ffffff" stroke-opacity="0.30" stroke-width="1.80" pathLength="360" stroke-dasharray="62 298" stroke-dashoffset="74"/><ellipse cx="781.25" cy="525.9" rx="66.75" ry="65.90" fill="none" stroke="#ffffff" stroke-opacity="0.22" stroke-width="3.20" pathLength="360" stroke-dasharray="120 240" stroke-dashoffset="-75"/></g>
<ellipse cx="781.25" cy="315.25" rx="68.75" ry="67.75" fill="#6090c1"/>
<ellipse cx="781.25" cy="315.25" rx="68.15" ry="67.15" fill="none" stroke="#001030" stroke-opacity="0.13" stroke-width="1.2" pathLength="360" stroke-dasharray="170 190" stroke-dashoffset="-185"/>
<g filter="url(#bv)"><ellipse cx="781.25" cy="315.25" rx="64.55" ry="63.55" fill="none" stroke="#ffffff" stroke-opacity="0.30" stroke-width="1.80" pathLength="360" stroke-dasharray="62 298" stroke-dashoffset="74"/><ellipse cx="781.25" cy="315.25" rx="66.75" ry="65.75" fill="none" stroke="#ffffff" stroke-opacity="0.22" stroke-width="3.20" pathLength="360" stroke-dasharray="120 240" stroke-dashoffset="-75"/></g>
<ellipse cx="964.2" cy="420" rx="96.85" ry="96" fill="#a0e4fb"/>
<ellipse cx="964.2" cy="420" rx="96.25" ry="95.40" fill="none" stroke="#001030" stroke-opacity="0.04" stroke-width="1.2" pathLength="360" stroke-dasharray="170 190" stroke-dashoffset="-185"/>
<g filter="url(#bv)"><ellipse cx="964.2" cy="420" rx="91.39" ry="90.54" fill="none" stroke="#ffffff" stroke-opacity="0.30" stroke-width="2.34" pathLength="360" stroke-dasharray="62 298" stroke-dashoffset="74"/><ellipse cx="964.2" cy="420" rx="94.25" ry="93.40" fill="none" stroke="#ffffff" stroke-opacity="0.22" stroke-width="4.16" pathLength="360" stroke-dasharray="120 240" stroke-dashoffset="-75"/></g>
<text x="949.50" y="204.50" font-size="14.7" font-weight="bold" fill="#ffffff" textLength="28.00" lengthAdjust="spacingAndGlyphs" >Risk</text>
<text x="917.00" y="223.25" font-size="14.7" font-weight="bold" fill="#ffffff" textLength="93.75" lengthAdjust="spacingAndGlyphs" >Management</text>
<text x="1113.25" y="319.50" font-size="14.7" font-weight="bold" fill="#ffffff" textLength="65.00" lengthAdjust="spacingAndGlyphs" >Valuation</text>
<text x="1101.25" y="520.50" font-size="14.7" font-weight="bold" fill="#ffffff" textLength="88.00" lengthAdjust="spacingAndGlyphs" >Mergers and</text>
<text x="1103.25" y="539.25" font-size="14.7" font-weight="bold" fill="#ffffff" textLength="84.25" lengthAdjust="spacingAndGlyphs" >Acquisitions</text>
<text x="928.25" y="616.25" font-size="14.7" font-weight="bold" fill="#ffffff" textLength="71.75" lengthAdjust="spacingAndGlyphs" >Budgeting</text>
<text x="951.25" y="635.75" font-size="14.7" font-weight="bold" fill="#ffffff" textLength="25.00" lengthAdjust="spacingAndGlyphs" >and</text>
<text x="923.25" y="654.50" font-size="14.7" font-weight="bold" fill="#ffffff" textLength="81.25" lengthAdjust="spacingAndGlyphs" >Forecasting</text>
<text x="756.25" y="520.50" font-size="14.7" font-weight="bold" fill="#ffffff" textLength="49.50" lengthAdjust="spacingAndGlyphs" >Raising</text>
<text x="757.50" y="539.25" font-size="14.7" font-weight="bold" fill="#ffffff" textLength="47.00" lengthAdjust="spacingAndGlyphs" >Capital</text>
<text x="748.75" y="299.50" font-size="14.7" font-weight="bold" fill="#ffffff" textLength="64.50" lengthAdjust="spacingAndGlyphs" >Informed</text>
<text x="751.75" y="318.75" font-size="14.7" font-weight="bold" fill="#ffffff" textLength="58.25" lengthAdjust="spacingAndGlyphs" >Decision</text>
<text x="755.75" y="337.00" font-size="14.7" font-weight="bold" fill="#ffffff" textLength="51.25" lengthAdjust="spacingAndGlyphs" >Making</text>
<text x="923.30" y="412.30" font-size="21.8" font-weight="bold" fill="#ffffff" textLength="80.00" lengthAdjust="spacingAndGlyphs" >Uses of</text>
<text x="900.00" y="441.00" font-size="21.8" font-weight="bold" fill="#ffffff" textLength="125.70" lengthAdjust="spacingAndGlyphs" >Cost Model</text>
<g id="logo"><circle cx="1087.4" cy="664.6" r="3.6" fill="#1ca2e6"/>
<rect x="1082.5" y="679.4" width="6.7" height="4.2" fill="#1ca2e6"/>
<rect x="1084.8" y="679.4" width="4.5" height="22.100000000000044" fill="#1ca2e6"/>
<g fill="none" stroke="#1ca2e6" stroke-width="4.8"><path d="M1095.3,678.8 V701.5 M1095.3,690.55 A9.35,9.35 0 0 1 1114.0,690.55 V701.5 M1114.0,690.55 A9.35,9.35 0 0 1 1132.7,690.55 V701.5"/><circle cx="1149.9" cy="690.2" r="9.2"/><path d="M1159.1,678.8 V701.5"/><path d="M1167.2,678.8 V701.5 M1167.2,692.5 A11.5,11.5 0 0 1 1178.7,681 H1182.7"/><path d="M1200.85,684.54 A9.2,9.2 0 1 0 1200.85,695.86"/></g>
<rect x="1205.3" y="678.2" width="2.6" height="22.8" fill="#111111"/>
<text x="1213.1" y="688.1" font-size="8.3" font-weight="bold" fill="#111111" textLength="45.6" lengthAdjust="spacingAndGlyphs">IMPACTFUL</text>
<text x="1213.1" y="697.6" font-size="8.3" font-weight="bold" fill="#111111" textLength="38.2" lengthAdjust="spacingAndGlyphs">INSIGHTS</text></g>
</svg>
</body></html>
